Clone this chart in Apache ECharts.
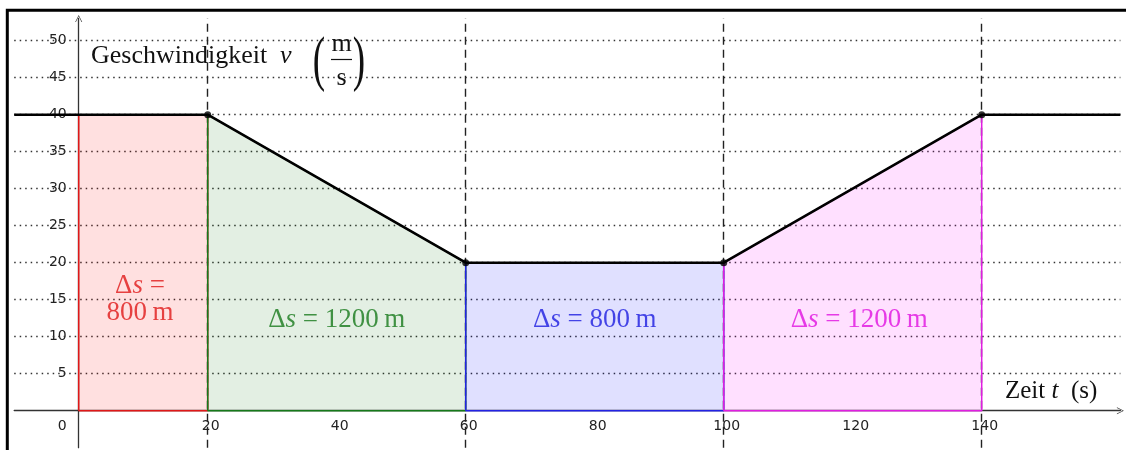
<!DOCTYPE html>
<html><head><meta charset="utf-8">
<script src="https://cdn.jsdelivr.net/npm/echarts@6/dist/echarts.min.js"></script>
<style>html,body{margin:0;padding:0;background:#fff}#c{width:1126px;height:450px}</style>
</head><body><div id="c"></div>
<script>
// ---- data ----
const tPoints = [-10, 20, 60, 100, 140, 161.5];
const vPoints = [40, 40, 20, 20, 40, 40];
const vertexT = [20, 60, 100, 140];
const vertexV = [40, 20, 20, 40];
const segStart = [0, 20, 60, 100];
const segEnd = [20, 60, 100, 140];
const segVStart = [40, 40, 20, 20];
const segVEnd = [40, 20, 20, 40];
const segDistance = [800, 1200, 800, 1200];
const xTickLabels = [0, 20, 40, 60, 80, 100, 120, 140];
const yTickLabels = [5, 10, 15, 20, 25, 30, 35, 40, 45, 50];
const dashedT = [20, 60, 100, 140];

// ---- styles ----
const SERIF = '"Liberation Serif", "DejaVu Serif", serif';
const SANS = '"DejaVu Sans", sans-serif';
const segStroke = ['#e01818', '#16791a', '#2222e4', '#e01ee0'];
const segFill = ['rgba(255,0,0,0.12)', 'rgba(0,110,0,0.11)', 'rgba(0,0,255,0.12)', 'rgba(255,0,255,0.12)'];
const segText = ['#e01818', '#16791a', '#1c1ce0', '#e010e0'];

// axis geometry (value ranges; axes placed through the origin)
const X_MIN = -10, X_MAX = 161.5, Y_MIN = -5, Y_MAX = 53;
const GRID = {left: 14.2, right: 5.6, top: 18.5, bottom: 2.3};
const W = 1126, H = 450;
const pxPerX = (W - GRID.left - GRID.right) / (X_MAX - X_MIN);
const pxPerY = (H - GRID.top - GRID.bottom) / (Y_MAX - Y_MIN);
const yAxisOffset = -(0 - X_MIN) * pxPerX;   // move y axis to t = 0
const xAxisOffset = -(0 - Y_MIN) * pxPerY;   // move x axis to v = 0

const chart = echarts.init(document.getElementById('c'), null, {renderer: 'canvas'});

const series = [];
// grid lines
series.push({
  type: 'line', z: 2, silent: true, data: [], animation: false,
  markLine: {
    z: 2, silent: true, symbol: 'none', animation: false, label: {show: false},
    data: yTickLabels.map(v => ({yAxis: v, lineStyle: {type: [1.5, 4], color: '#333', width: 1.3}}))
      .concat(dashedT.map(t => ({xAxis: t, lineStyle: {type: [8, 5], color: '#222', width: 1.4}})))
  }
});
// regions
segStart.forEach((t0, i) => {
  const t1 = segEnd[i];
  series.push({
    type: 'line', z: 3, silent: true, symbol: 'none', animation: false,
    data: [[t0, 0], [t0, segVStart[i]], [t1, segVEnd[i]], [t1, 0], [t0, 0]],
    lineStyle: {color: segStroke[i], width: 1.5},
    areaStyle: {color: segFill[i], opacity: 1}
  });
});
// velocity line
series.push({
  type: 'line', z: 5, silent: true, symbol: 'none', animation: false,
  data: tPoints.map((t, i) => [t, vPoints[i]]),
  lineStyle: {color: '#000', width: 2.6}
});
series.push({
  type: 'scatter', z: 6, silent: true, animation: false, symbolSize: 7,
  itemStyle: {color: '#000'},
  data: vertexT.map((t, i) => [t, vertexV[i]])
});
// region labels
segStart.forEach((t0, i) => {
  const mid = (t0 + segEnd[i]) / 2;
  const twoLine = i === 0;
  series.push({
    type: 'scatter', z: 7, silent: true, animation: false, symbolSize: 0,
    data: [[twoLine ? mid - 0.5 : mid + (i === 3 ? 1 : 0), twoLine ? 15 : 12.3]],
    label: {
      show: true, position: 'inside',
      formatter: twoLine
        ? '{d|\u0394}{i|s}{d|\u00a0=}\n{d|' + segDistance[i] + '\u2009m}'
        : '{d|\u0394}{i|s}{d|\u00a0=\u00a0' + segDistance[i] + '\u2009m}',
      lineHeight: 27,
      rich: {
        d: {fontFamily: SERIF, fontSize: 27, color: segText[i], lineHeight: 27},
        i: {fontFamily: SERIF, fontSize: 27, fontStyle: 'italic', color: segText[i], lineHeight: 27}
      }
    }
  });
});

const arrowPath = 'path://M0,10 L5,0 L10,10 L9,10 L5,1.8 L1,10 Z';
const option = {
  backgroundColor: '#fff',
  animation: false,
  grid: {left: GRID.left, right: GRID.right, top: GRID.top, bottom: GRID.bottom, containLabel: false, outerBoundsMode: 'none'},
  xAxis: {
    type: 'value', min: X_MIN, max: X_MAX, interval: 10, position: 'bottom', offset: xAxisOffset,
    axisLine: {onZero: false, lineStyle: {color: '#333', width: 1.3},
      symbol: ['none', arrowPath], symbolSize: [9, 7]},
    axisTick: {show: false},
    splitLine: {show: false},
    axisLabel: {
      margin: 9,
      formatter: v => {
        if (v === 0) return '{z|0}';
        return xTickLabels.indexOf(v) >= 0 ? '{n|' + v + '}' : '';
      },
      rich: {
        z: {fontFamily: SANS, fontSize: 14, color: '#222', padding: [0, 33, 0, 0]},
        n: {fontFamily: SANS, fontSize: 14, color: '#222', padding: [0, 0, 0, 6]}
      }
    }
  },
  yAxis: {
    type: 'value', min: Y_MIN, max: Y_MAX, interval: 5, position: 'left', offset: yAxisOffset,
    axisLine: {onZero: false, lineStyle: {color: '#333', width: 1.3},
      symbol: ['none', arrowPath], symbolSize: [9, 7]},
    axisTick: {show: false},
    splitLine: {show: false},
    axisLabel: {
      margin: 12, fontFamily: SANS, fontSize: 14, color: '#222',
      formatter: v => yTickLabels.indexOf(v) >= 0 ? String(v) : ''
    }
  },
  series: series,
  graphic: [
    {type: 'rect', silent: true, shape: {x: 7.3, y: 10.3, width: 1400, height: 800},
      style: {fill: 'none', stroke: '#000', lineWidth: 3}, z: 100},
    {type: 'text', silent: true, x: 91, y: 56, z: 100,
      style: {text: 'Geschwindigkeit', fontFamily: SERIF, fontSize: 26, fill: '#111', textVerticalAlign: 'middle'}},
    {type: 'text', silent: true, x: 280, y: 56, z: 100,
      style: {text: 'v', fontFamily: SERIF, fontStyle: 'italic', fontSize: 26, fill: '#111', textVerticalAlign: 'middle'}},
    {type: 'text', silent: true, x: 319, y: 63, scaleX: 0.6, z: 100,
      style: {text: '(', fontFamily: SERIF, fontSize: 62, fill: '#111', textAlign: 'center', textVerticalAlign: 'middle'}},
    {type: 'text', silent: true, x: 341.5, y: 44, z: 100,
      style: {text: 'm', fontFamily: SERIF, fontSize: 26, fill: '#111', textAlign: 'center', textVerticalAlign: 'middle'}},
    {type: 'line', silent: true, z: 100, shape: {x1: 331, y1: 59.5, x2: 352, y2: 59.5},
      style: {stroke: '#111', lineWidth: 1.2}},
    {type: 'text', silent: true, x: 341.5, y: 78, z: 100,
      style: {text: 's', fontFamily: SERIF, fontSize: 26, fill: '#111', textAlign: 'center', textVerticalAlign: 'middle'}},
    {type: 'text', silent: true, x: 359, y: 63, scaleX: 0.6, z: 100,
      style: {text: ')', fontFamily: SERIF, fontSize: 62, fill: '#111', textAlign: 'center', textVerticalAlign: 'middle'}},
    {type: 'text', silent: true, x: 1005, y: 391, z: 100,
      style: {text: '{a|Zeit\u00a0}{b|t}{a|\u00a0\u00a0(s)}', textVerticalAlign: 'middle',
        rich: {a: {fontFamily: SERIF, fontSize: 25, fill: '#111'}, b: {fontFamily: SERIF, fontSize: 25, fontStyle: 'italic', fill: '#111'}}}}
  ]
};
chart.setOption(option);
</script>
</body></html>
